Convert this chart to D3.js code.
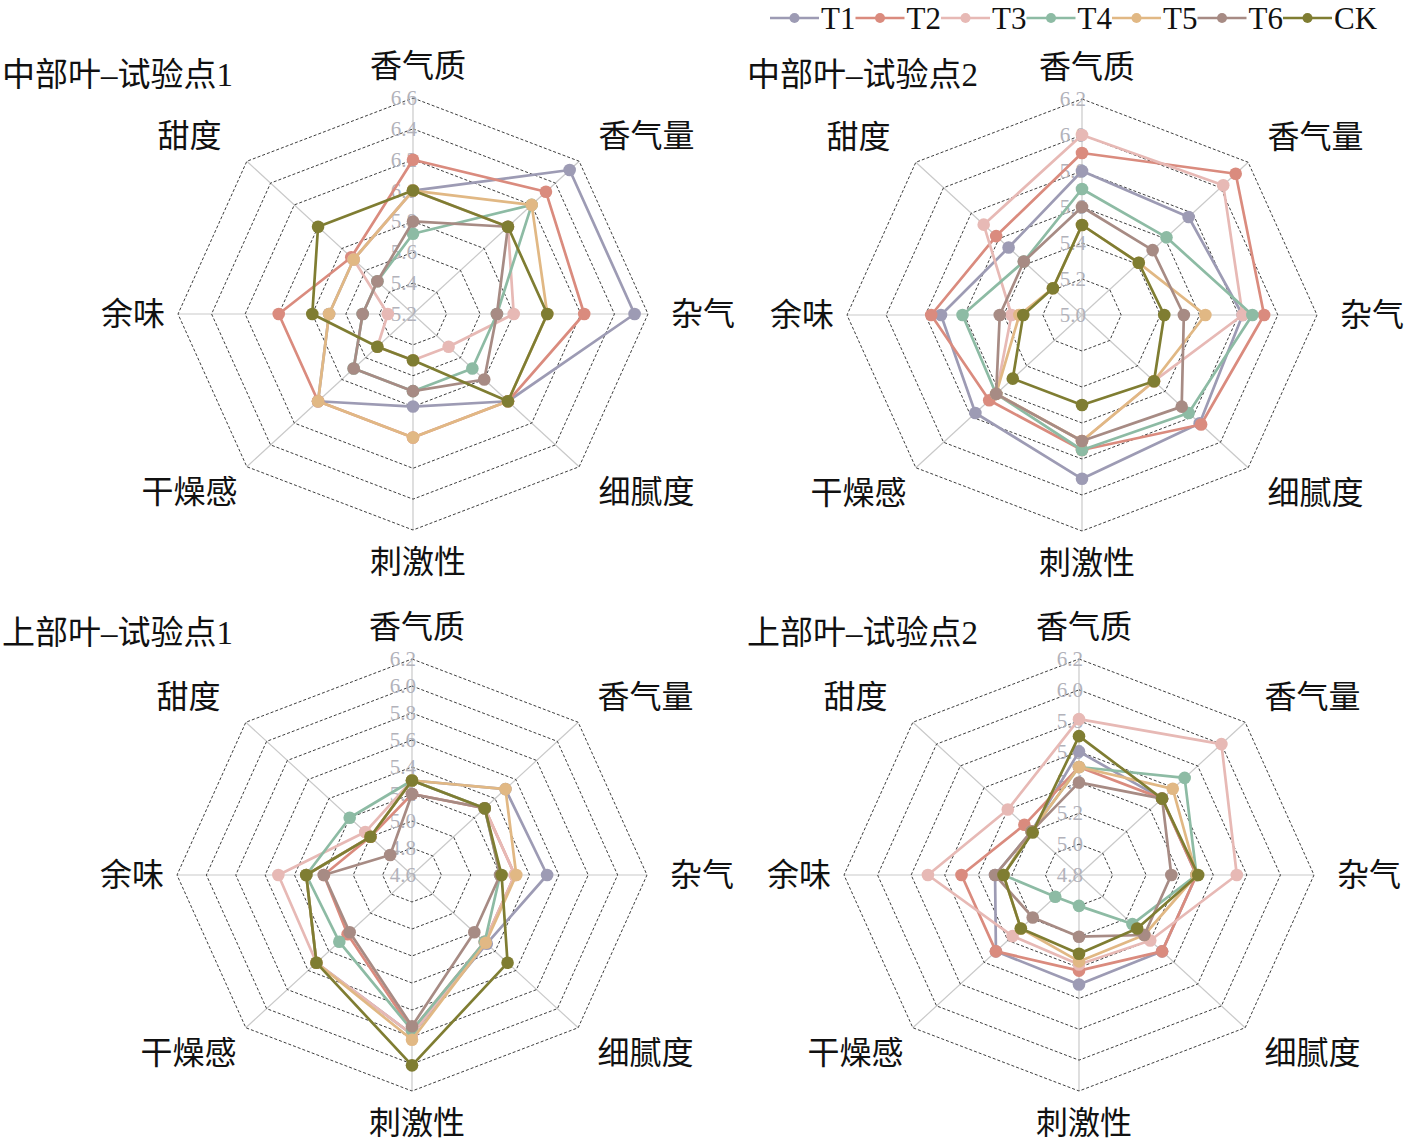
<!DOCTYPE html>
<html>
<head>
<meta charset="utf-8">
<script src="https://cdn.jsdelivr.net/npm/d3@7"></script>
<style>
  body { margin: 0; background: #fff; }
  svg { display: block; }
  text { font-family: "Liberation Serif", "Noto Sans CJK SC", serif; }
</style>
</head>
<body>
<script>
// axes, clockwise from the top
var axes = ['香气质', '香气量', '杂气', '细腻度', '刺激性', '干燥感', '余味', '甜度']
var seriesNames = ['T1', 'T2', 'T3', 'T4', 'T5', 'T6', 'CK']
var seriesColors = ['#9d9bb4', '#da8b7e', '#e7b9b5', '#8dbba4', '#e1b884', '#a78b84', '#7f7d32']
var titles = ['中部叶–试验点1', '中部叶–试验点2', '上部叶–试验点1', '上部叶–试验点2']

var ticksMid1 = [5.2, 5.4, 5.6, 5.8, 6.0, 6.2, 6.4, 6.6]
var ticksMid2 = [5.0, 5.2, 5.4, 5.6, 5.8, 6.0, 6.2]
var ticksUp1 = [4.6, 4.8, 5.0, 5.2, 5.4, 5.6, 5.8, 6.0, 6.2]
var ticksUp2 = [4.8, 5.0, 5.2, 5.4, 5.6, 5.8, 6.0, 6.2]

// one row per series (T1..T6, CK), one value per axis
var valuesMid1 = [
    [6.0, 6.52, 6.52, 6.0, 5.8, 6.0, 5.7, 5.7],
    [6.2, 6.32, 6.22, 6.0, 6.0, 6.0, 6.0, 5.72],
    [6.0, 6.0, 5.8, 5.5, 5.5, 5.5, 5.35, 5.7],
    [5.72, 6.2, 5.7, 5.7, 5.7, 5.7, 5.5, 5.5],
    [6.0, 6.2, 6.0, 6.0, 6.0, 6.0, 5.7, 5.7],
    [5.8, 6.0, 5.7, 5.8, 5.7, 5.7, 5.5, 5.5],
    [6.0, 6.0, 6.0, 6.0, 5.5, 5.5, 5.8, 6.0]
]
var valuesMid2 = [
    [5.8, 5.77, 5.82, 5.85, 5.91, 5.77, 5.72, 5.53],
    [5.9, 6.11, 5.93, 5.86, 5.75, 5.67, 5.77, 5.62],
    [6.0, 6.02, 5.82, 5.52, 5.7, 5.62, 5.36, 5.71],
    [5.7, 5.61, 5.87, 5.77, 5.75, 5.62, 5.61, 5.42],
    [5.5, 5.41, 5.63, 5.52, 5.7, 5.62, 5.32, 5.21],
    [5.6, 5.51, 5.52, 5.72, 5.7, 5.62, 5.42, 5.42],
    [5.5, 5.41, 5.42, 5.52, 5.5, 5.5, 5.3, 5.21]
]
var valuesUp1 = [
    [5.3, 5.5, 5.52, 5.32, 5.78, 5.52, 5.32, 5.0],
    [5.2, 5.3, 5.3, 5.3, 5.75, 5.22, 5.2, 5.0],
    [5.3, 5.3, 5.3, 5.3, 5.78, 5.52, 5.51, 5.05],
    [5.3, 5.3, 5.2, 5.3, 5.75, 5.3, 5.32, 5.2],
    [5.3, 5.5, 5.31, 5.31, 5.82, 5.52, 5.32, 5.0],
    [5.2, 5.3, 5.2, 5.2, 5.72, 5.2, 5.2, 4.81],
    [5.3, 5.3, 5.21, 5.52, 6.01, 5.52, 5.32, 5.0]
]
var valuesUp2 = [
    [5.6, 5.5, 5.5, 5.5, 5.51, 5.5, 5.3, 5.2],
    [5.5, 5.5, 5.5, 5.5, 5.42, 5.5, 5.5, 5.26],
    [5.81, 6.0, 5.74, 5.4, 5.38, 5.36, 5.7, 5.4],
    [5.5, 5.69, 5.5, 5.25, 5.0, 5.0, 5.25, 5.2],
    [5.5, 5.59, 5.5, 5.35, 5.36, 5.29, 5.25, 5.2],
    [5.4, 5.5, 5.35, 5.35, 5.2, 5.19, 5.3, 5.2],
    [5.7, 5.5, 5.51, 5.29, 5.31, 5.29, 5.25, 5.19]
]

var layout = {
    width: 1413,
    height: 1148,
    rx: 235,
    ry: 216,
    centers: [[413, 314], [1082, 315], [412, 875], [1079, 875]],
    titlePos: [[2, 75], [747, 75], [2, 633], [747, 633]]
}

var svg = d3.select('body').append('svg')
    .attr('width', layout.width)
    .attr('height', layout.height)

function RadarChart(svg, title, ticks, values, cx, cy, tx, ty) {
    var rScale = d3.scaleLinear()
        .domain([ticks[0], ticks[ticks.length - 1]])
        .range([0, 1])
    var angle = d3.scaleLinear()
        .domain([0, axes.length])
        .range([0, 2 * Math.PI])

    function px(v, i) { return cx + Math.sin(angle(i)) * layout.rx * rScale(v) }
    function py(v, i) { return cy - Math.cos(angle(i)) * layout.ry * rScale(v) }

    var chart = svg.append('g').attr('class', 'radar')

    chart.append('text')
        .attr('x', tx)
        .attr('y', ty)
        .attr('dominant-baseline', 'central')
        .attr('font-size', 33)
        .attr('fill', '#111')
        .text(title)

    // spokes
    chart.append('g').selectAll('line')
        .data(axes)
        .enter()
        .append('line')
        .attr('x1', cx)
        .attr('y1', cy)
        .attr('x2', function (_, i) { return px(ticks[ticks.length - 1], i) })
        .attr('y2', function (_, i) { return py(ticks[ticks.length - 1], i) })
        .attr('stroke', '#c9c9c9')
        .attr('stroke-width', 1.2)

    // rings
    var ring = d3.line()
        .x(function (d) { return d[0] })
        .y(function (d) { return d[1] })
        .curve(d3.curveLinearClosed)

    chart.append('g').selectAll('path')
        .data(ticks.slice(1))
        .enter()
        .append('path')
        .attr('d', function (t) { return ring(axes.map(function (_, i) { return [px(t, i), py(t, i)] })) })
        .attr('fill', 'none')
        .attr('stroke', '#3e3e3e')
        .attr('stroke-width', 1)
        .attr('stroke-dasharray', '3,2')

    // tick labels up the top spoke
    chart.append('g').selectAll('text')
        .data(ticks)
        .enter()
        .append('text')
        .attr('x', cx + 4)
        .attr('y', function (t) { return py(t, 0) })
        .attr('text-anchor', 'end')
        .attr('dominant-baseline', 'central')
        .attr('font-size', 21)
        .attr('fill', '#b2b2ba')
        .text(function (t) { return d3.format('.1f')(t) })

    // axis labels
    chart.append('g').selectAll('text')
        .data(axes)
        .enter()
        .append('text')
        .attr('x', function (_, i) { return cx + 5 + Math.sin(angle(i)) * (layout.rx + (i % 2 ? 88 : 50)) })
        .attr('y', function (_, i) { return cy - Math.cos(angle(i)) * (layout.ry + (i % 2 ? 36 : 32)) })
        .attr('text-anchor', 'middle')
        .attr('dominant-baseline', 'central')
        .attr('font-size', 32)
        .attr('fill', '#111')
        .text(function (d) { return d })

    // series
    var series = chart.append('g').selectAll('g')
        .data(values)
        .enter()
        .append('g')
        .attr('class', function (_, i) { return 'series' + i })

    series.append('path')
        .attr('d', function (row) { return ring(row.map(function (v, i) { return [px(v, i), py(v, i)] })) })
        .attr('fill', 'none')
        .attr('stroke', function (_, s) { return seriesColors[s] })
        .attr('stroke-width', 2.7)
        .attr('stroke-linejoin', 'round')

    series.each(function (row, s) {
        d3.select(this).selectAll('circle')
            .data(row)
            .enter()
            .append('circle')
            .attr('cx', function (v, i) { return px(v, i) })
            .attr('cy', function (v, i) { return py(v, i) })
            .attr('r', 6.3)
            .attr('fill', seriesColors[s])
    })

    return chart
}

var allTicks = [ticksMid1, ticksMid2, ticksUp1, ticksUp2]
var allValues = [valuesMid1, valuesMid2, valuesUp1, valuesUp2]
titles.forEach(function (t, k) {
    RadarChart(svg, t, allTicks[k], allValues[k],
        layout.centers[k][0], layout.centers[k][1],
        layout.titlePos[k][0], layout.titlePos[k][1])
})

// legend
var legend = svg.append('g')
    .attr('id', 'legend')
    .attr('transform', 'translate(770, 18)')

var legendItems = legend.selectAll('g')
    .data(seriesNames)
    .enter()
    .append('g')
    .attr('transform', function (_, i) { return 'translate(' + (i * 85.5) + ', 0)' })

legendItems.append('line')
    .attr('x1', 0)
    .attr('x2', 49)
    .attr('stroke', function (_, i) { return seriesColors[i] })
    .attr('stroke-width', 2.4)

legendItems.append('circle')
    .attr('cx', 24.5)
    .attr('r', 5)
    .attr('fill', function (_, i) { return seriesColors[i] })

legendItems.append('text')
    .attr('x', 51)
    .attr('dominant-baseline', 'central')
    .attr('font-size', 31)
    .attr('fill', '#111')
    .text(function (d) { return d })
</script>
</body>
</html>
